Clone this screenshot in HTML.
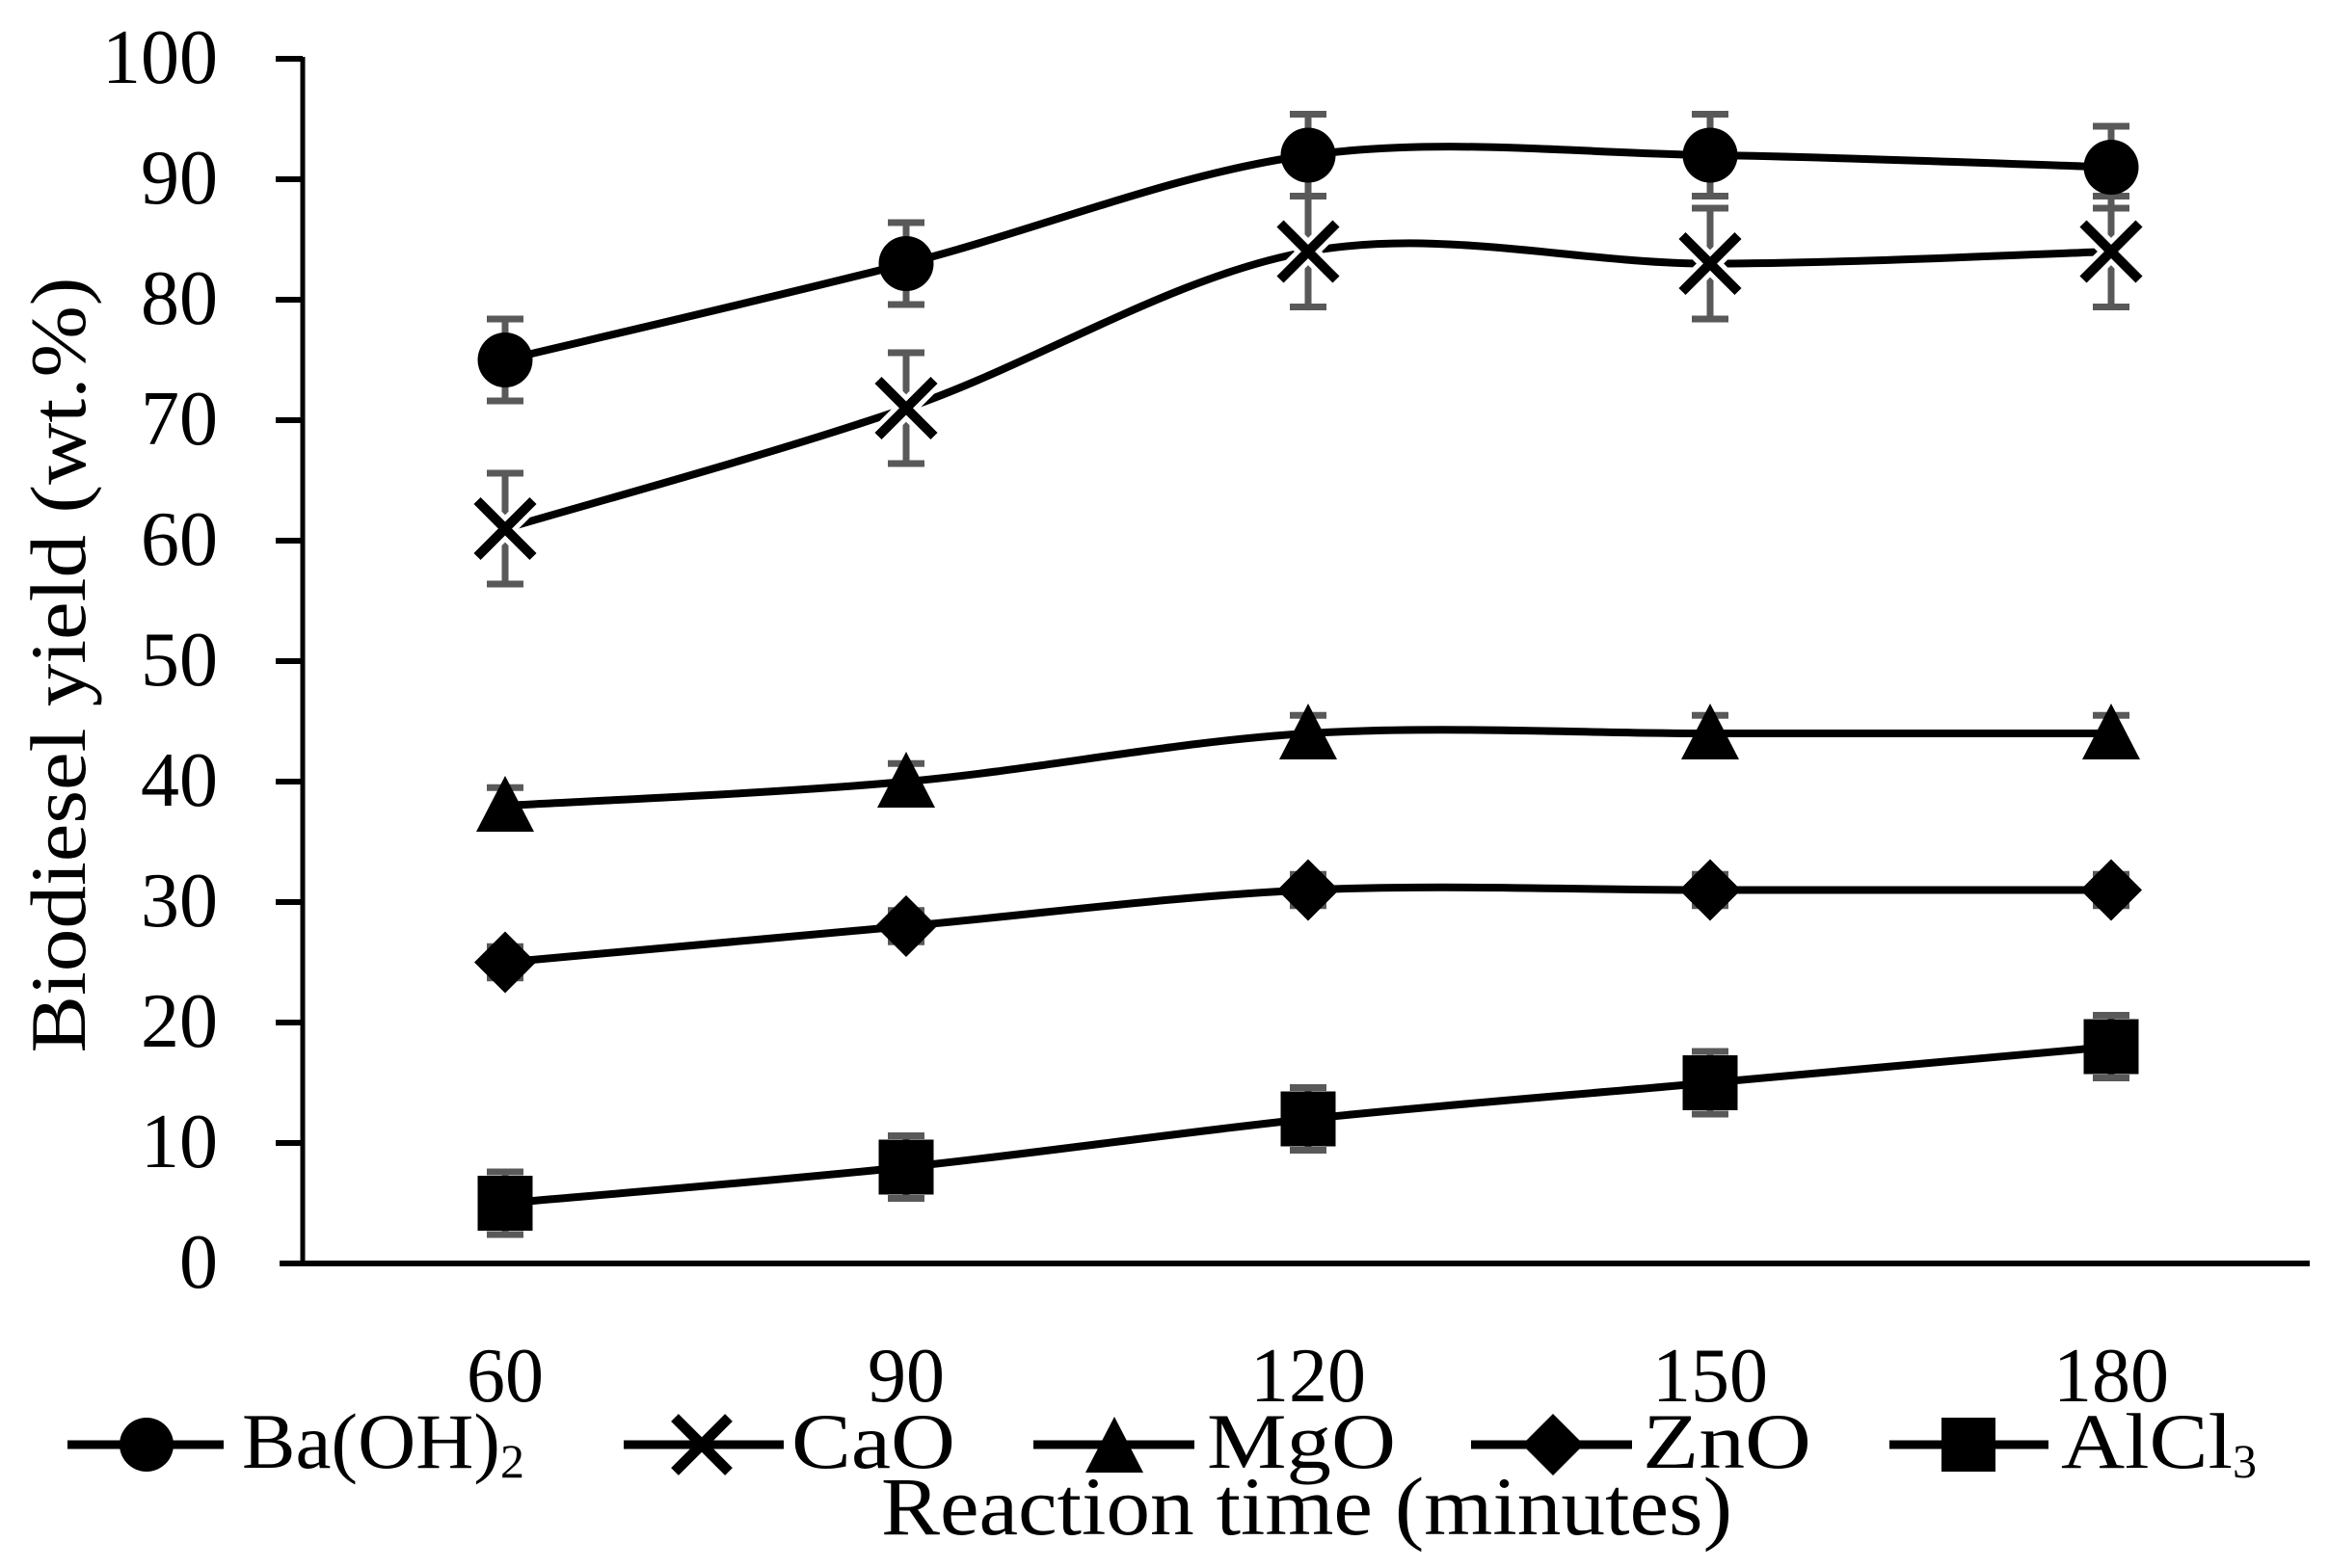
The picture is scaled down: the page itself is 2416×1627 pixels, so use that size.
<!DOCTYPE html>
<html><head><meta charset="utf-8"><style>
html,body{margin:0;padding:0;background:#fff;}
svg{display:block;font-family:"Liberation Serif",serif;}
</style></head><body>
<svg id="s" width="2416" height="1627" viewBox="0 0 2416 1627" xmlns="http://www.w3.org/2000/svg">
<rect width="2416" height="1627" fill="#fff"/>
<g id="err" stroke="#595959" stroke-width="7" fill="none"></g>
<g id="lines" stroke="#000" stroke-width="8" fill="none"></g>
<g id="marks" fill="#000"></g>
<line x1="314" y1="59" x2="314" y2="1313" stroke="#000" stroke-width="5"/>
<line x1="290" y1="1311" x2="2396" y2="1311" stroke="#000" stroke-width="6"/>
<g stroke="#000" stroke-width="6">
<line x1="286" y1="61" x2="314" y2="61"/><line x1="286" y1="186" x2="314" y2="186"/>
<line x1="286" y1="311" x2="314" y2="311"/><line x1="286" y1="436" x2="314" y2="436"/>
<line x1="286" y1="561" x2="314" y2="561"/><line x1="286" y1="686" x2="314" y2="686"/>
<line x1="286" y1="811" x2="314" y2="811"/><line x1="286" y1="936" x2="314" y2="936"/>
<line x1="286" y1="1061" x2="314" y2="1061"/><line x1="286" y1="1186" x2="314" y2="1186"/>
</g>
<g font-size="80" text-anchor="end" fill="#000">
<text x="226" y="86">100</text><text x="226" y="211">90</text><text x="226" y="336">80</text>
<text x="226" y="461">70</text><text x="226" y="586">60</text><text x="226" y="711">50</text>
<text x="226" y="836">40</text><text x="226" y="961">30</text><text x="226" y="1086">20</text>
<text x="226" y="1211">10</text><text x="226" y="1336">0</text>
</g>
<g font-size="80" text-anchor="middle" fill="#000">
<text x="524" y="1454">60</text><text x="940" y="1454">90</text><text x="1357" y="1454">120</text>
<text x="1774" y="1454">150</text><text x="2190" y="1454">180</text>
</g>
<text transform="translate(88,690) rotate(-90)" font-size="82" text-anchor="middle" textLength="805" lengthAdjust="spacingAndGlyphs">Biodiesel yield (wt.%)</text>
<text x="914" y="1592" font-size="86" textLength="883" lengthAdjust="spacingAndGlyphs">Reaction time (minutes)</text>
<g stroke="#000" stroke-width="9">
<line x1="70" y1="1499" x2="232" y2="1499"/><line x1="647" y1="1499" x2="813" y2="1499"/>
<line x1="1072" y1="1499" x2="1239" y2="1499"/><line x1="1526" y1="1499" x2="1693" y2="1499"/>
<line x1="1960" y1="1499" x2="2125" y2="1499"/>
</g>
<circle cx="152" cy="1499" r="28"/>
<g stroke="#000" stroke-width="11"><line x1="700" y1="1471" x2="756" y2="1527"/><line x1="756" y1="1471" x2="700" y2="1527"/></g>
<polygon points="1156,1470 1186,1528 1126,1528"/>
<polygon points="1611,1467 1643,1499 1611,1531 1579,1499"/>
<rect x="2014" y="1471" width="56" height="56"/>
<g font-size="82" fill="#000">
<text x="251" y="1523"><tspan textLength="268" lengthAdjust="spacingAndGlyphs">Ba(OH)</tspan><tspan font-size="50" dy="10">2</tspan></text>
<text x="821" y="1523" textLength="170" lengthAdjust="spacingAndGlyphs">CaO</text>
<text x="1252" y="1523" textLength="196" lengthAdjust="spacingAndGlyphs">MgO</text>
<text x="1704" y="1523" textLength="175" lengthAdjust="spacingAndGlyphs">ZnO</text>
<text x="2138" y="1523"><tspan textLength="178" lengthAdjust="spacingAndGlyphs">AlCl</tspan><tspan font-size="50" dy="10">3</tspan></text>
</g>
</svg>
<script>
var X=[524,940,1357,1774,2190];
function Y(v){return 1311-v*12.5;}
var S=[
 {d:[75,83,92,92,91],e:3.4,m:'c'},
 {d:[61,71,84,83,84],e:4.6,m:'x'},
 {d:[38,40,44,44,44],e:1.5,m:'t'},
 {d:[25,28,31,31,31],e:1.3,m:'d'},
 {d:[5,8,12,15,18],e:2.6,m:'s'}];
var NS='http://www.w3.org/2000/svg';
function el(p,t,a){var e=document.createElementNS(NS,t);for(var k in a)e.setAttribute(k,a[k]);document.getElementById(p).appendChild(e);return e;}
S.forEach(function(s){
 var P=s.d.map(function(v,i){return [X[i],Y(v)];});
 var d='M'+P[0][0]+','+P[0][1];
 for(var i=0;i<P.length-1;i++){
  var p0=P[i-1]||P[i],p1=P[i],p2=P[i+1],p3=P[i+2]||P[i+1];
  var c1=[p1[0]+(p2[0]-p0[0])/6,p1[1]+(p2[1]-p0[1])/6];
  var c2=[p2[0]-(p3[0]-p1[0])/6,p2[1]-(p3[1]-p1[1])/6];
  d+=' C'+c1+' '+c2+' '+p2;
 }
 el('lines','path',{d:d});
 P.forEach(function(p){
  var e=s.e*12.5,x=p[0],y=p[1];
  el('err','path',{d:'M'+x+','+(y-e)+'V'+(y+e)+'M'+(x-19)+','+(y-e)+'h38M'+(x-19)+','+(y+e)+'h38'});
  if(s.m=='c')el('marks','circle',{cx:x,cy:y,r:28.5});
  if(s.m=='x'){el('marks','path',{d:'M'+(x-29)+','+(y-29)+'L'+(x+29)+','+(y+29)+'M'+(x+29)+','+(y-29)+'L'+(x-29)+','+(y+29),stroke:'#fff','stroke-width':20});
   el('marks','path',{d:'M'+(x-29)+','+(y-29)+'L'+(x+29)+','+(y+29)+'M'+(x+29)+','+(y-29)+'L'+(x-29)+','+(y+29),stroke:'#000','stroke-width':10});}
  if(s.m=='t')el('marks','polygon',{points:x+','+(y-31)+' '+(x+30)+','+(y+27)+' '+(x-30)+','+(y+27)});
  if(s.m=='d')el('marks','polygon',{points:x+','+(y-32)+' '+(x+32)+','+y+' '+x+','+(y+32)+' '+(x-32)+','+y});
  if(s.m=='s')el('marks','rect',{x:x-28.5,y:y-28.5,width:57,height:57});
 });
});
</script>
</body></html>
